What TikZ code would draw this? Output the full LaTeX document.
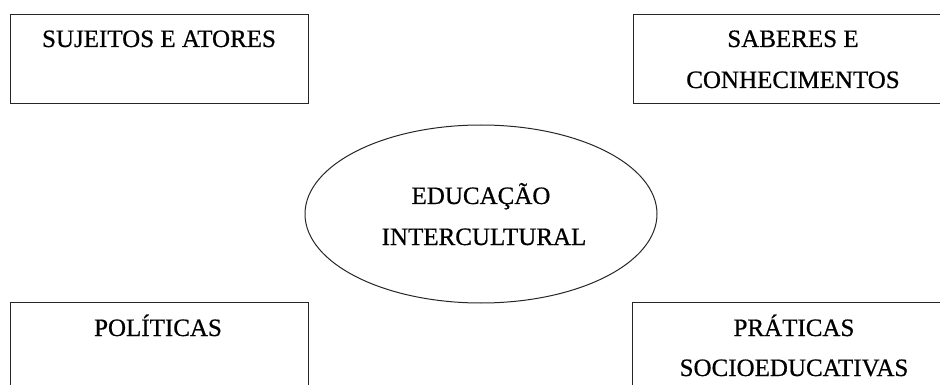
\documentclass[tikz,border=0pt]{standalone}
\usepackage{fontspec}
\setmainfont{Liberation Serif}[FakeBold=0.6]
\usetikzlibrary{shapes.geometric}
\begin{document}
\begin{tikzpicture}[x=1pt,y=-1pt,
  boxnode/.style={draw=black!85,line width=1.3pt,rectangle,inner sep=0pt,anchor=north west,minimum width=#1,minimum height=89pt},
  lbl/.style={font=\fontsize{25}{30}\selectfont,inner sep=0pt,anchor=base,text=black},
  ovalnode/.style={draw=black!85,line width=1pt,ellipse,inner sep=0pt,minimum width=352pt,minimum height=178pt}]
\useasboundingbox (0,0) rectangle (940,385);
% boxes
\node[boxnode=298pt] (sa) at (10,14) {};
\node[boxnode=320pt] (sc) at (633,14) {};
\node[boxnode=298pt] (po) at (10,302) {};
\node[boxnode=320pt] (pr) at (632,302) {};
% ellipse
\node[ovalnode] (ei) at (481,214) {};
% labels
\node[lbl] (t1) at (159,47) {SUJEITOS E ATORES};
\node[lbl] (t2a) at (793,47) {SABERES E};
\node[lbl] (t2b) at (793,88) {CONHECIMENTOS};
\node[lbl] (t3) at (158,336) {POLÍTICAS};
\node[lbl] (t4a) at (794,336) {PRÁTICAS};
\node[lbl] (t4b) at (794,376) {SOCIOEDUCATIVAS};
\node[lbl] (t5a) at (481,204) {EDUCAÇÃO};
\node[lbl] (t5b) at (484,245) {INTERCULTURAL};
\end{tikzpicture}
\end{document}
